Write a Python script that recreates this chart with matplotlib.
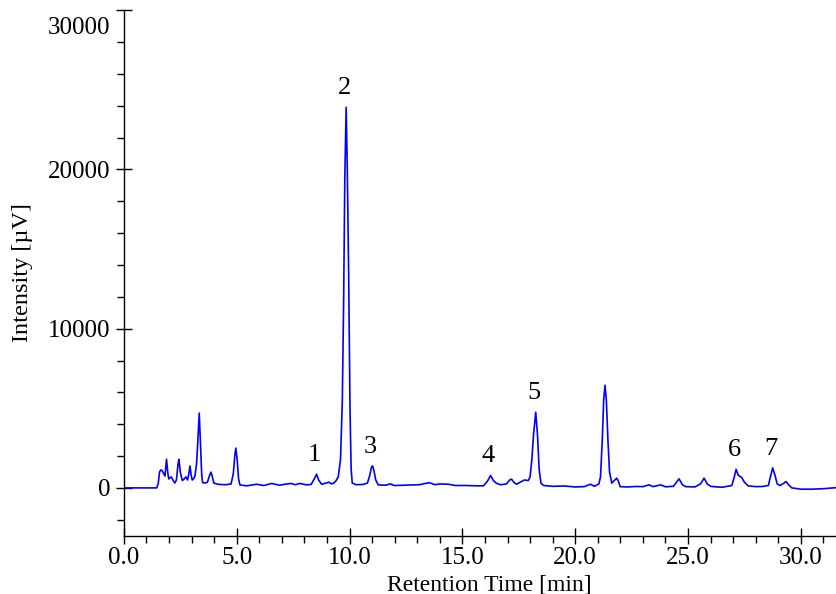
import matplotlib
matplotlib.use("Agg")
import matplotlib.pyplot as plt
from matplotlib.ticker import MultipleLocator, FixedLocator
from matplotlib.transforms import ScaledTranslation

# Chromatogram trace: retention time [min] and intensity [µV]
time_min = [
    0.00, 1.45, 1.52, 1.58, 1.64, 1.70, 1.76, 1.82, 1.89, 1.95, 1.99, 2.05, 2.10,
    2.17, 2.26, 2.33, 2.40, 2.44, 2.50, 2.59, 2.67, 2.75, 2.82, 2.88, 2.93, 2.98,
    3.03, 3.10, 3.15, 3.22, 3.28, 3.34, 3.40, 3.45, 3.49, 3.59, 3.70, 3.80, 3.86,
    3.92, 3.99, 4.20, 4.50, 4.75, 4.85, 4.92, 4.96, 5.02, 5.08, 5.14, 5.44, 5.88,
    6.20, 6.55, 6.90, 7.10, 7.40, 7.60, 7.80, 8.10, 8.30, 8.45, 8.54, 8.63, 8.76,
    8.95, 9.09, 9.20, 9.30, 9.40, 9.50, 9.60, 9.68, 9.74, 9.79, 9.85, 9.90, 9.96,
    10.02, 10.07, 10.12, 10.30, 10.60, 10.79, 10.90, 10.97, 11.02, 11.08, 11.16,
    11.27, 11.60, 11.80, 12.00, 12.50, 13.10, 13.53, 13.80, 14.00, 14.38, 14.70,
    15.20, 15.60, 15.93, 16.10, 16.25, 16.38, 16.52, 16.70, 16.95, 17.10, 17.18,
    17.28, 17.40, 17.55, 17.75, 17.92, 18.00, 18.08, 18.15, 18.25, 18.33, 18.40,
    18.48, 18.60, 19.00, 19.50, 20.00, 20.40, 20.68, 20.85, 21.05, 21.12, 21.20,
    21.26, 21.32, 21.38, 21.45, 21.52, 21.62, 21.72, 21.84, 21.92, 21.99, 22.30,
    22.70, 23.00, 23.27, 23.45, 23.79, 24.00, 24.35, 24.60, 24.75, 24.90, 25.30,
    25.55, 25.71, 25.85, 26.00, 26.12, 26.50, 26.94, 27.05, 27.13, 27.22, 27.38,
    27.50, 27.67, 28.00, 28.30, 28.56, 28.65, 28.75, 28.85, 28.95, 29.08, 29.25,
    29.34, 29.45, 29.60, 30.00, 30.50, 31.00, 31.60,
]
intensity_uv = [
    0, 0, 250, 1000, 1130, 1080, 900, 750, 1800, 900, 560, 650, 690,
    500, 310, 500, 1500, 1800, 1000, 460, 560, 690, 500, 900, 1380, 800,
    500, 600, 750, 1500, 3000, 4700, 2500, 800, 330, 310, 350, 800, 990,
    700, 300, 220, 200, 250, 900, 2100, 2500, 1800, 600, 190, 130, 230,
    150, 280, 170, 220, 280, 200, 280, 190, 220, 600, 860, 500, 230,
    300, 360, 250, 300, 450, 700, 1800, 5500, 12000, 19500, 23900, 20000, 13500,
    5000, 1200, 300, 200, 220, 300, 800, 1300, 1380, 1100, 500,
    190, 170, 250, 150, 170, 200, 330, 200, 250, 230, 150,
    150, 130, 130, 400, 780, 450, 280, 200, 250, 500, 550,
    350, 230, 350, 500, 460, 700, 1800, 3300, 4750, 3300, 1200,
    300, 150, 100, 120, 60, 80, 230, 100, 250, 700, 3000,
    5500, 6450, 5500, 3000, 1000, 300, 450, 610, 400, 80, 60,
    90, 80, 190, 80, 190, 70, 100, 570, 200, 80, 60,
    250, 610, 250, 100, 80, 40, 150, 700, 1170, 800, 650,
    350, 125, 80, 90, 150, 700, 1260, 800, 250, 150, 300,
    400, 200, 0, -80, -80, -50, 20,
]

# Numbered peaks: label, retention time, apex intensity
peak_labels = ["1", "2", "3", "4", "5", "6", "7"]
peak_times = [8.54, 9.85, 11.02, 16.25, 18.25, 27.13, 28.75]
peak_heights = [860, 23900, 1380, 780, 4750, 1170, 1260]

x_major = [0.0, 5.0, 10.0, 15.0, 20.0, 25.0, 30.0]
y_major = [0, 10000, 20000, 30000]

plt.rcParams["font.family"] = ["Liberation Serif", "DejaVu Serif"]

fig = plt.figure(figsize=(8.37, 5.94), dpi=100)
ax = fig.add_axes([0.148, 0.0982, 0.852, 0.8845])

ax.plot(time_min, intensity_uv, color="#0000ff", lw=1.2)

for lab, t, h in zip(peak_labels, peak_times, peak_heights):
    ax.annotate(lab, (t, h), xytext=(-1.5, 6), textcoords="offset points",
                ha="center", va="bottom", fontsize=19)

ax.set_xlim(0, 31.6)
ax.set_ylim(-3000, 30000)

ax.spines["top"].set_visible(False)
ax.spines["right"].set_visible(False)
for s in ("left", "bottom"):
    ax.spines[s].set_linewidth(1.0)

ax.xaxis.set_major_locator(FixedLocator(x_major))
ax.set_xticklabels([f"{v:.1f}" for v in x_major])
ax.xaxis.set_minor_locator(MultipleLocator(1.0))
ax.yaxis.set_major_locator(FixedLocator(y_major))
ax.set_yticklabels([f"{v:d}" for v in y_major])
ax.yaxis.set_minor_locator(MultipleLocator(2000))

ax.tick_params(which="major", direction="inout", length=11, width=1.0,
               labelsize=18, pad=3)
ax.tick_params(which="minor", direction="out", length=5, width=1.0)
ax.tick_params(axis="y", which="major", pad=4)

# the top y tick label sits lower than its tick in the reference
top_lab = ax.get_yticklabels()[-1]
top_lab.set_transform(top_lab.get_transform() +
                      ScaledTranslation(0, -15 / 100, fig.dpi_scale_trans))

ax.set_xlabel("Retention Time [min]", fontsize=17)
ax.xaxis.set_label_coords(0.512, -0.073)
ax.set_ylabel("Intensity [µV]", fontsize=17.5)
ax.yaxis.set_label_coords(-0.128, 0.5)

fig.savefig("out.png", dpi=100)
